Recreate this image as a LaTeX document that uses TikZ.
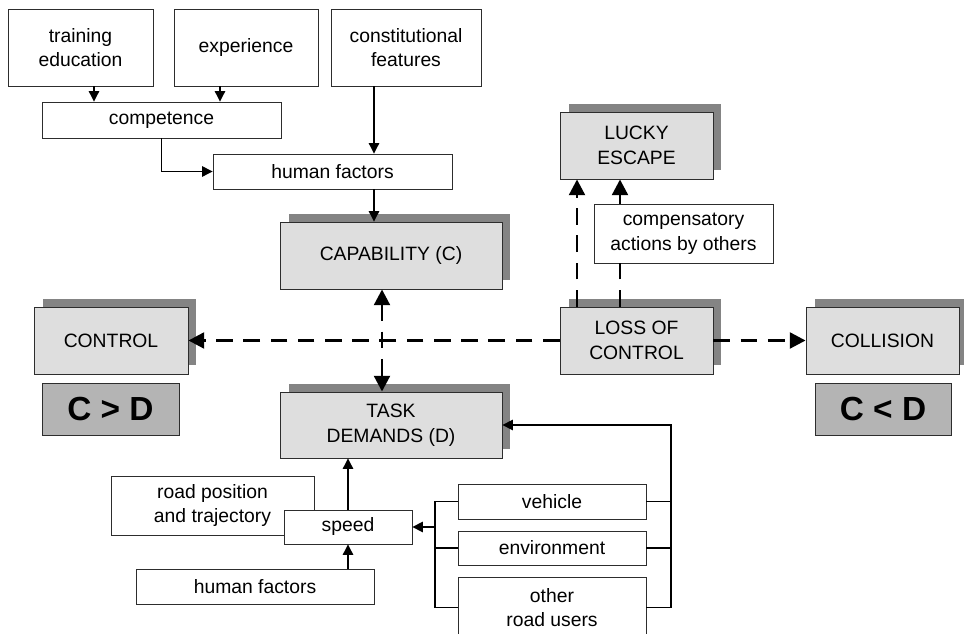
\documentclass[tikz,border=0pt]{standalone}
\usepackage{fontspec}
\setmainfont{Liberation Sans}
\usepackage{tikz}
\usetikzlibrary{arrows.meta,shadows}
\definecolor{boxgray}{RGB}{222,222,222}
\definecolor{shadegray}{RGB}{132,132,132}
\definecolor{markgray}{RGB}{180,180,180}
\definecolor{edgegray}{RGB}{45,45,45}

\begin{document}
\begin{tikzpicture}[x=0.02cm,y=-0.02cm,
                font=\fontsize{11}{14}\selectfont,
                plain/.style={draw=edgegray,line width=0.5pt,fill=white,align=center,inner sep=0pt},
                grey/.style={plain,fill=boxgray,drop shadow={shadow xshift=0.17cm,shadow yshift=0.17cm,fill=shadegray,opacity=1}},
                verdict/.style={plain,fill=markgray,font=\fontsize{19}{22}\selectfont\bfseries},
                arr/.style={line width=0.6pt,-{Triangle[length=6pt,width=6pt]}},
                dasharr/.style={line width=1.7pt,dash pattern=on 9.5pt off 6pt,-{Triangle[length=9pt,width=9pt]}},
                dashline/.style={line width=1.7pt,dash pattern=on 9.5pt off 6pt}]
                \useasboundingbox (0,0) rectangle (964,634);

                \node[plain,minimum width=2.9cm,minimum height=1.54cm] (train) at (80.5,47.5) {training\\education};
                \node[plain,minimum width=2.88cm,minimum height=1.54cm] (exper) at (246,47.5) {experience};
                \node[plain,minimum width=3cm,minimum height=1.54cm] (cons) at (406,47.5) {constitutional\\features};
                \node[plain,minimum width=4.78cm,minimum height=0.72cm] (comp) at (161.5,120) {competence};
                \node[plain,minimum width=4.78cm,minimum height=0.7cm] (hfup) at (332.5,171.5) {human factors};
                \node[grey,minimum width=4.44cm,minimum height=1.34cm] (cap) at (391,255.5) {CAPABILITY (C)};
                \node[grey,minimum width=3.06cm,minimum height=1.34cm] (lucky) at (636.5,145.5) {LUCKY\\ESCAPE};
                \node[plain,minimum width=3.58cm,minimum height=1.18cm] (compens) at (683.5,233.5) {compensatory\\actions by others};
                \node[grey,minimum width=3.08cm,minimum height=1.34cm] (control) at (111,340.5) {CONTROL};
                \node[grey,minimum width=3.06cm,minimum height=1.34cm] (loss) at (636.5,340.5) {LOSS OF\\CONTROL};
                \node[grey,minimum width=3.06cm,minimum height=1.34cm] (collis) at (882.5,340.5) {COLLISION};
                \node[verdict,minimum width=2.74cm,minimum height=1.04cm] (cgd) at (110.5,409) {C > D};
                \node[verdict,minimum width=2.72cm,minimum height=1.04cm] (cld) at (883,409) {C < D};
                \node[grey,minimum width=4.44cm,minimum height=1.32cm] (task) at (391,425) {TASK\\DEMANDS (D)};
                \node[plain,minimum width=4.06cm,minimum height=1.18cm] (road) at (212.5,505.5) {road position\\and trajectory};
                \node[plain,minimum width=2.56cm,minimum height=0.68cm] (speed) at (348,527) {speed};
                \node[plain,minimum width=4.76cm,minimum height=0.7cm] (hfdown) at (255,586.5) {human factors};
                \node[plain,minimum width=3.76cm,minimum height=0.7cm] (veh) at (552,501.5) {vehicle};
                \node[plain,minimum width=3.76cm,minimum height=0.68cm] (env) at (552,548) {environment};
                \node[plain,minimum width=3.76cm,minimum height=1.22cm] (other) at (552,607.5) {other\\road users};

                \coordinate (xa) at (94,0);
                \coordinate (xb) at (220,0);
                \coordinate (xc) at (374,0);
                \coordinate (xd) at (382,0);
                \coordinate (xe) at (577,0);
                \coordinate (xf) at (620,0);
                \coordinate (lbus) at (435,0);
                \coordinate (rbus) at (671,0);

                \draw[arr] (train.south -| xa) -- (comp.north -| xa);
                \draw[arr] (exper.south -| xb) -- (comp.north -| xb);
                \draw[arr] (cons.south -| xc) -- (hfup.north -| xc);
                \draw[arr] (comp.south) |- (hfup.west);
                \draw[arr] (hfup.south -| xc) -- (cap.north -| xc);

                \draw[dasharr,{Triangle[length=9pt,width=9pt]}-{Triangle[length=9pt,width=9pt]}] (cap.south -| xd) -- (task.north -| xd);
                \draw[dasharr] (loss.west) -- (control.east);
                \draw[dasharr] (loss.east) -- (collis.west);
                \draw[dasharr] (loss.north -| xe) -- (lucky.south -| xe);
                \draw[dashline] (loss.north -| xf) -- (compens.south -| xf);
                \draw[line width=1.7pt,-{Triangle[length=9pt,width=9pt]}] (compens.north -| xf) -- (lucky.south -| xf);

                \draw[arr] (speed.north) -- (speed.north |- task.south);
                \draw[arr] (hfdown.north -| speed) -- (speed.south);
                \draw[line width=0.9pt] (veh.west) -- (veh.west -| lbus) |- (other.west);
                \draw[line width=0.9pt] (env.west) -- (env.west -| lbus);
                \draw[arr,line width=0.9pt] (speed.east -| lbus) -- (speed.east);
                \draw[arr,line width=0.9pt] (other.east) -| (rbus |- task.east) -- (task.east);
                \draw[line width=0.9pt] (veh.east) -- (veh.east -| rbus);
                \draw[line width=0.9pt] (env.east) -- (env.east -| rbus);
            \end{tikzpicture}
\end{document}
